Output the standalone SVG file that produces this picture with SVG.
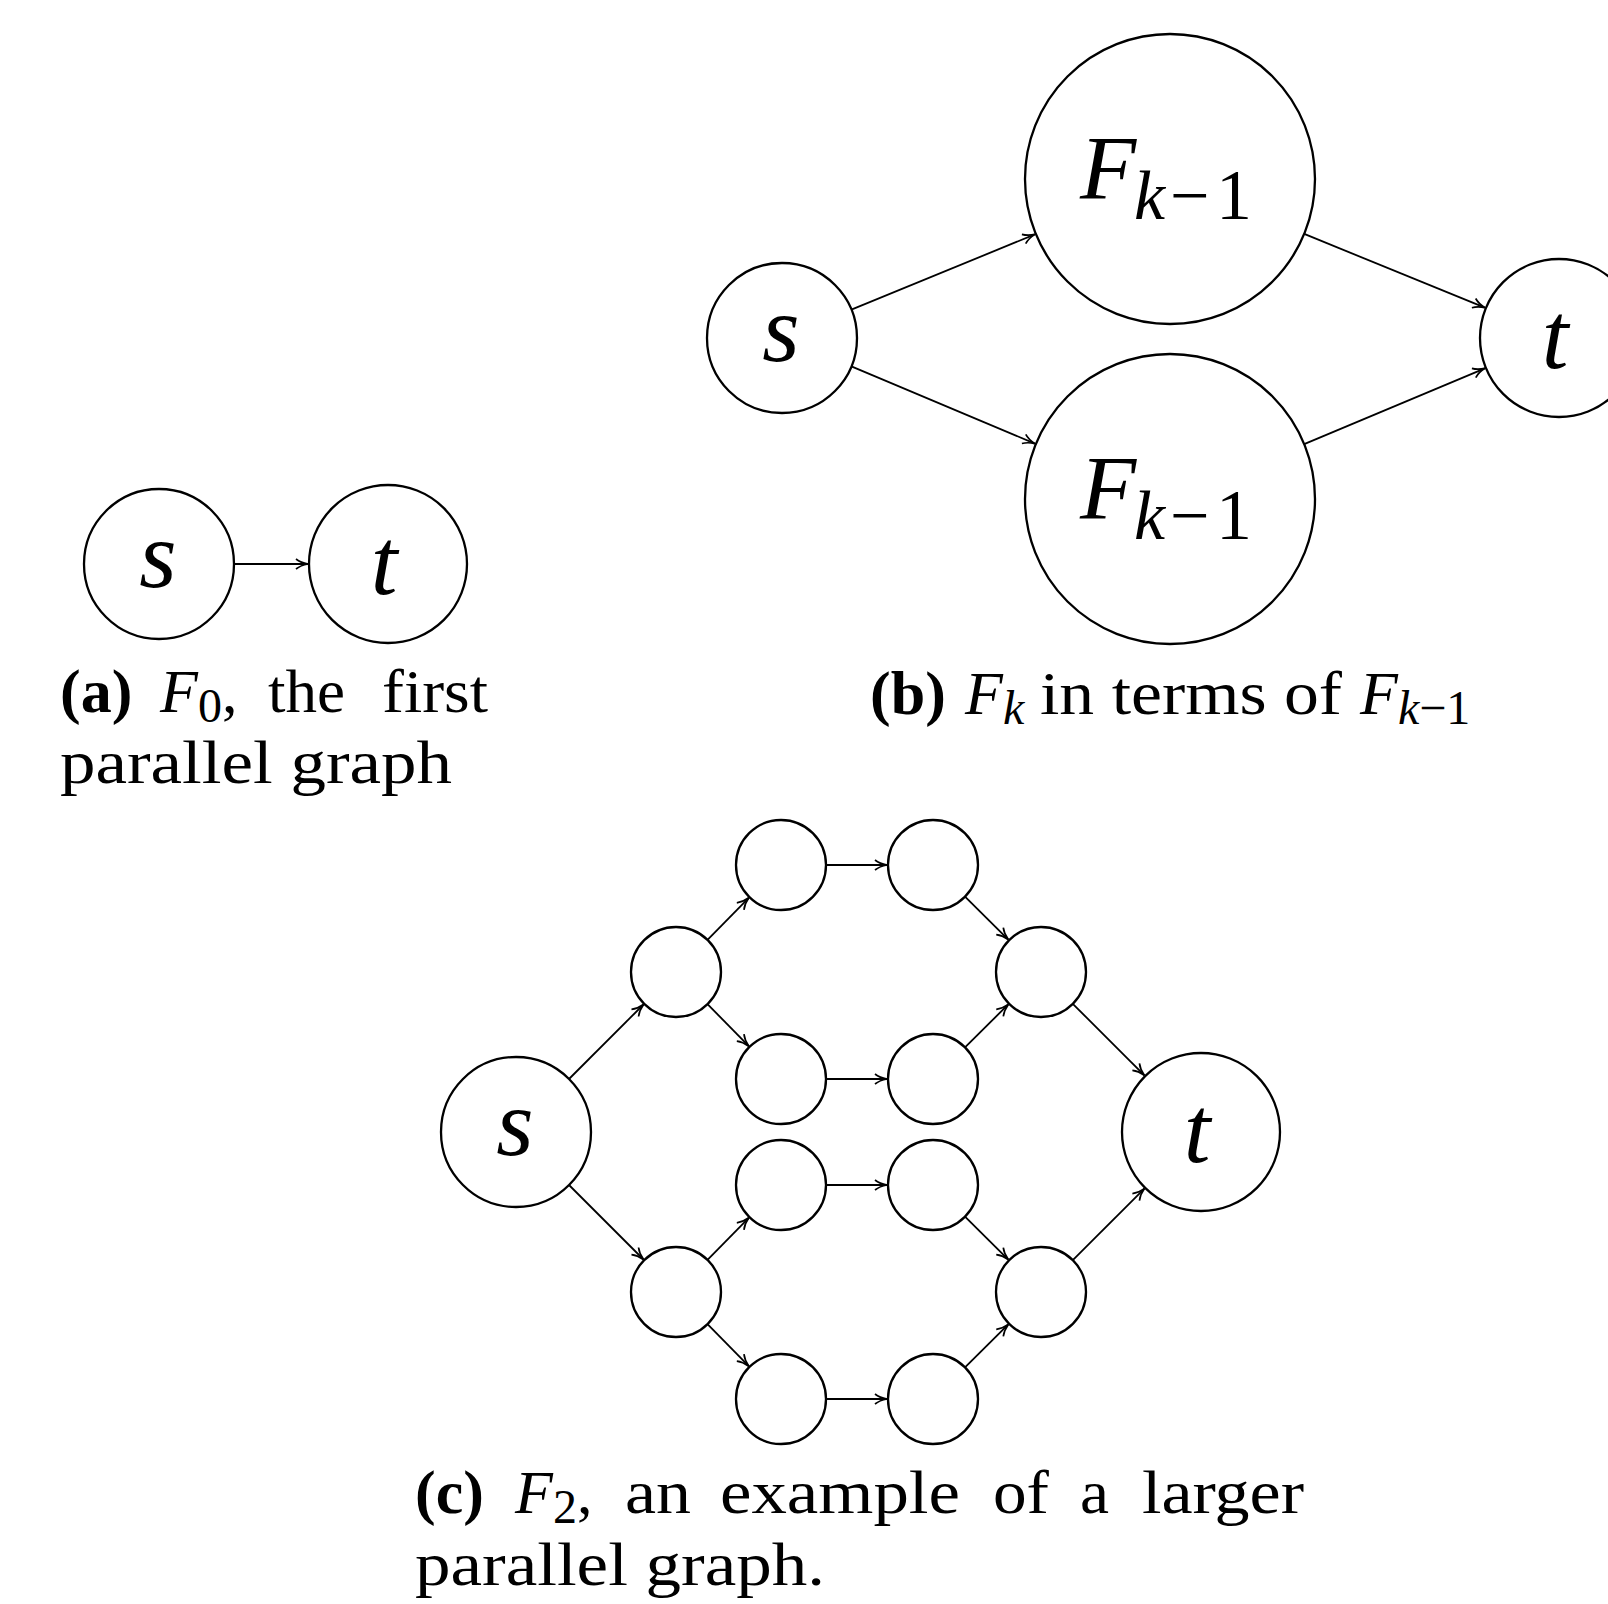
<svg xmlns="http://www.w3.org/2000/svg" width="1608" height="1604" viewBox="0 0 1608 1604">
<style>
.n{fill:#fff;stroke:#000;stroke-width:2.3}
.e{stroke:#000;stroke-width:1.8;fill:none;marker-end:url(#ah)}
.lbl{font-family:"Liberation Serif",serif;font-style:italic;font-size:96px;text-anchor:middle;fill:#000}
.fk{font-family:"Liberation Serif",serif;font-style:italic;font-size:92px;fill:#000}
.sub{font-size:70px}
.up{font-style:normal}
.cap{font-family:"Liberation Serif",serif;font-size:62px;fill:#000}
.b{font-weight:bold}
.i{font-style:italic}
</style>
<defs>
<marker id="ah" markerUnits="userSpaceOnUse" markerWidth="16" markerHeight="14" viewBox="-14 -7 16 14" refX="0" refY="0" orient="auto" overflow="visible">
<path d="M -12 -5 C -8.5 -2.2 -3.5 -0.6 0 0 C -3.5 0.6 -8.5 2.2 -12 5" fill="none" stroke="#000" stroke-width="1.7"/>
</marker>
</defs>
<rect width="1608" height="1604" fill="#fff"/>

<g id="connectors">
<line class="e" x1="234" y1="564" x2="308" y2="564"/>
<line class="e" x1="851.4" y1="309.6" x2="1034.9" y2="234.4"/>
<line class="e" x1="851.4" y1="366.4" x2="1034.9" y2="443.6"/>
<line class="e" x1="1304.2" y1="233.9" x2="1484.9" y2="307.7"/>
<line class="e" x1="1304.2" y1="444.1" x2="1484.9" y2="368.3"/>
<line class="e" x1="569" y1="1079" x2="643.5" y2="1004.5"/>
<line class="e" x1="569" y1="1185" x2="643.5" y2="1259.5"/>
<line class="e" x1="707.5" y1="939.9" x2="748.8" y2="897.8"/>
<line class="e" x1="707.5" y1="1004.1" x2="748.8" y2="1046.2"/>
<line class="e" x1="707.5" y1="1259.9" x2="748.8" y2="1217.8"/>
<line class="e" x1="707.5" y1="1324.1" x2="748.8" y2="1366.2"/>
<line class="e" x1="826" y1="865" x2="887" y2="865"/>
<line class="e" x1="826" y1="1079" x2="887" y2="1079"/>
<line class="e" x1="826" y1="1185" x2="887" y2="1185"/>
<line class="e" x1="826" y1="1399" x2="887" y2="1399"/>
<line class="e" x1="965" y1="896.7" x2="1008.3" y2="939.6"/>
<line class="e" x1="965" y1="1047.3" x2="1008.3" y2="1004.4"/>
<line class="e" x1="965" y1="1216.7" x2="1008.3" y2="1259.6"/>
<line class="e" x1="965" y1="1367.3" x2="1008.3" y2="1324.4"/>
<line class="e" x1="1072.8" y1="1003.8" x2="1144.4" y2="1075.4"/>
<line class="e" x1="1072.8" y1="1260.2" x2="1144.4" y2="1188.6"/>
</g>

<!-- (a) -->
<g id="a_s"><circle class="n" cx="159" cy="564" r="75"/><text class="lbl" x="158" y="587">s</text></g>
<g id="a_t"><circle class="n" cx="388" cy="564" r="79"/><text class="lbl" x="384" y="594">t</text></g>

<!-- (b) -->
<g id="b_s"><circle class="n" cx="782" cy="338" r="75"/><text class="lbl" x="781" y="361">s</text></g>
<g id="b_f1"><circle class="n" cx="1170" cy="179" r="145"/>
<text class="fk"><tspan x="1080" y="199">F</tspan><tspan class="sub" x="1134" y="219">k</tspan><tspan class="sub up" x="1170" y="219">−</tspan><tspan class="up" font-size="72" x="1216" y="219">1</tspan></text>
</g>
<g id="b_f2"><circle class="n" cx="1170" cy="499" r="145"/>
<text class="fk"><tspan x="1080" y="519">F</tspan><tspan class="sub" x="1134" y="539">k</tspan><tspan class="sub up" x="1170" y="539">−</tspan><tspan class="up" font-size="72" x="1216" y="539">1</tspan></text>
</g>
<g id="b_t"><circle class="n" cx="1559" cy="338" r="79"/><text class="lbl" x="1555" y="368">t</text></g>

<!-- (c) -->
<g id="c_s"><circle class="n" cx="516" cy="1132" r="75"/><text class="lbl" x="515" y="1155">s</text></g>
<g id="c_a1"><circle class="n" cx="676" cy="972" r="45"/></g>
<g id="c_a2"><circle class="n" cx="676" cy="1292" r="45"/></g>
<g id="c_b1"><circle class="n" cx="781" cy="865" r="45"/></g>
<g id="c_b2"><circle class="n" cx="781" cy="1079" r="45"/></g>
<g id="c_b3"><circle class="n" cx="781" cy="1185" r="45"/></g>
<g id="c_b4"><circle class="n" cx="781" cy="1399" r="45"/></g>
<g id="c_c1"><circle class="n" cx="933" cy="865" r="45"/></g>
<g id="c_c2"><circle class="n" cx="933" cy="1079" r="45"/></g>
<g id="c_c3"><circle class="n" cx="933" cy="1185" r="45"/></g>
<g id="c_c4"><circle class="n" cx="933" cy="1399" r="45"/></g>
<g id="c_d1"><circle class="n" cx="1041" cy="972" r="45"/></g>
<g id="c_d2"><circle class="n" cx="1041" cy="1292" r="45"/></g>
<g id="c_t"><circle class="n" cx="1201" cy="1132" r="79"/><text class="lbl" x="1197" y="1162">t</text></g>

<!-- captions -->
<g id="captions" class="cap">
<text class="b" x="60" y="712">(a)</text>
<text x="160" y="712"><tspan class="i">F</tspan><tspan font-size="48" dy="10">0</tspan><tspan dy="-10">,</tspan></text>
<text x="268" y="712" textLength="77" lengthAdjust="spacingAndGlyphs">the</text>
<text x="382" y="712" textLength="106" lengthAdjust="spacingAndGlyphs">first</text>
<text x="60" y="783" textLength="392" lengthAdjust="spacingAndGlyphs">parallel graph</text>

<text class="b" x="870" y="714">(b)</text>
<text x="965" y="714"><tspan class="i">F</tspan><tspan class="i" font-size="48" dy="10">k</tspan></text>
<text x="1040" y="714" textLength="302" lengthAdjust="spacingAndGlyphs">in terms of</text>
<text x="1360" y="714"><tspan class="i">F</tspan><tspan class="i" font-size="48" dy="10">k</tspan><tspan font-size="48">−1</tspan></text>

<text class="b" x="415" y="1513">(c)</text>
<text x="515" y="1513"><tspan class="i">F</tspan><tspan font-size="48" dy="10">2</tspan><tspan dy="-10">,</tspan></text>
<text x="625" y="1513" textLength="66" lengthAdjust="spacingAndGlyphs">an</text>
<text x="720" y="1513" textLength="240" lengthAdjust="spacingAndGlyphs">example</text>
<text x="993" y="1513" textLength="56" lengthAdjust="spacingAndGlyphs">of</text>
<text x="1080" y="1513" textLength="29" lengthAdjust="spacingAndGlyphs">a</text>
<text x="1142" y="1513" textLength="162" lengthAdjust="spacingAndGlyphs">larger</text>
<text x="415" y="1585" textLength="410" lengthAdjust="spacingAndGlyphs">parallel graph.</text>
</g>
</svg>
